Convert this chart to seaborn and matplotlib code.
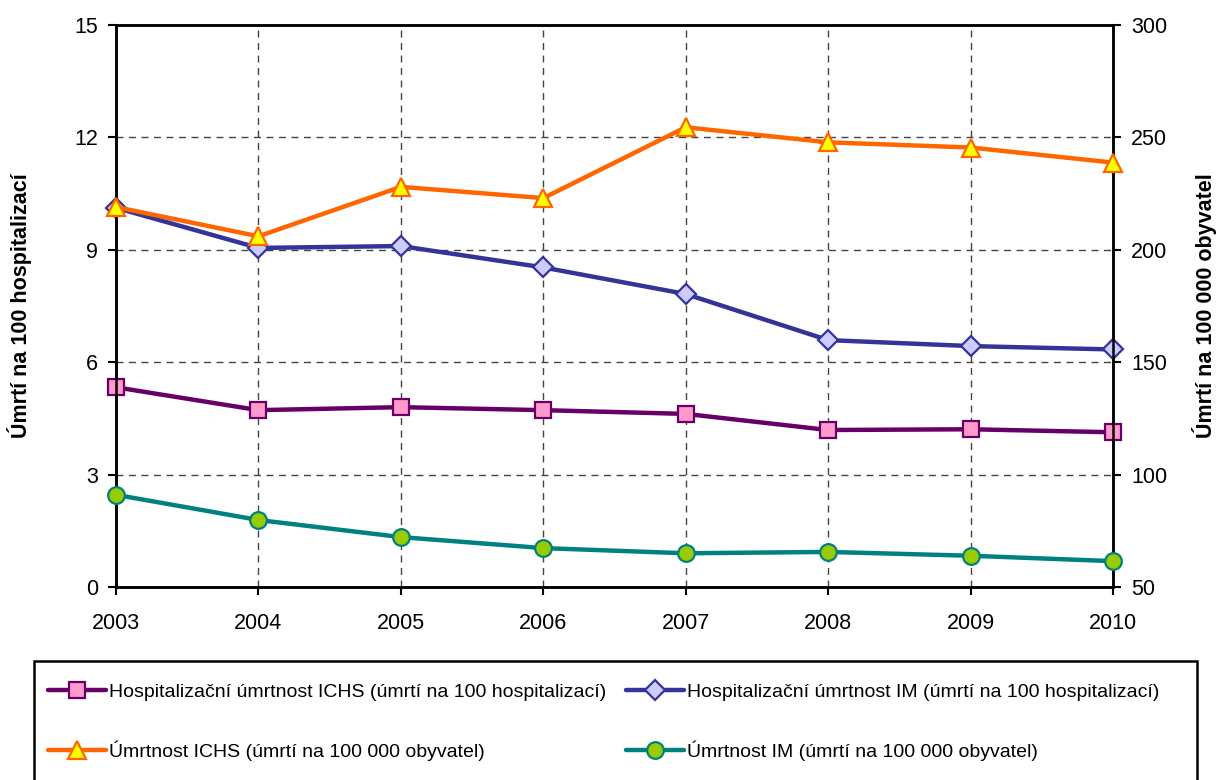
import numpy as np
import pandas as pd
import seaborn as sns
from matplotlib import pyplot as plt
from matplotlib.patches import Rectangle

years = [2003, 2004, 2005, 2006, 2007, 2008, 2009, 2010]
hosp_ichs = [5.33, 4.72, 4.8, 4.72, 4.62, 4.19, 4.21, 4.13]
hosp_im = [10.12, 9.05, 9.1, 8.53, 7.82, 6.59, 6.43, 6.34]
mort_ichs = [219, 206, 228, 223, 254.5, 247.8, 245.5, 238.8]
mort_im = [91, 79.8, 72.2, 67.3, 65, 65.6, 63.9, 61.5]

labels = [
    'Hospitalizační úmrtnost ICHS (úmrtí na 100 hospitalizací)',
    'Hospitalizační úmrtnost IM (úmrtí na 100 hospitalizací)',
    'Úmrtnost ICHS (úmrtí na 100 000 obyvatel)',
    'Úmrtnost IM (úmrtí na 100 000 obyvatel)',
]

df = pd.DataFrame({'rok': years, 'hosp_ichs': hosp_ichs, 'hosp_im': hosp_im,
                   'mort_ichs': mort_ichs, 'mort_im': mort_im})

sns.set_style('white')
plt.rcParams['font.family'] = ['Liberation Sans', 'DejaVu Sans']
plt.rcParams['text.color'] = 'black'
plt.rcParams['axes.labelcolor'] = 'black'

W, H = 1216, 780
fig = plt.figure(figsize=(W / 100, H / 100), dpi=100)
ax = fig.add_axes([116 / W, 1 - 587 / H, (1113 - 116) / W, (587 - 25) / H])
ax2 = ax.twinx()

styles = {
    'hosp_ichs': dict(color='#660066', marker='s', mfc='#FF99CC', mec='#660066', ms=12),
    'hosp_im': dict(color='#333399', marker='D', mfc='#CCCCFF', mec='#333399', ms=10),
    'mort_ichs': dict(color='#FF6600', marker='^', mfc='#FFFF00', mec='#FF6600', ms=13),
    'mort_im': dict(color='#008080', marker='o', mfc='#99CC00', mec='#008080', ms=12),
}

handles = {}
for col, axis in [('hosp_ichs', ax), ('hosp_im', ax), ('mort_ichs', ax2), ('mort_im', ax2)]:
    st = styles[col]
    sns.lineplot(data=df, x='rok', y=col, ax=axis, color=st['color'], lw=3.2,
                 marker=st['marker'], markerfacecolor=st['mfc'], markeredgecolor=st['mec'],
                 markeredgewidth=1.6, markersize=st['ms'], legend=False, clip_on=False, zorder=5)
    handles[col] = axis.get_lines()[-1]

ax.set_xlim(2003, 2010)
ax.set_ylim(0, 15)
ax2.set_ylim(50, 300)
ax.set_xticks(years)
ax.set_yticks(np.arange(0, 16, 3))
ax2.set_yticks(np.arange(50, 301, 50))

ax.grid(True, linestyle=(0, (5, 4)), color='#444444', lw=1)
ax.set_axisbelow(True)

for a in (ax, ax2):
    for s in a.spines.values():
        s.set_color('black')
        s.set_linewidth(1.8)
    a.tick_params(direction='out', length=6, width=1.5, color='black', labelsize=15.5, labelcolor='black')
ax.tick_params(axis='y', pad=7, left=True)
ax.tick_params(axis='x', pad=13, bottom=True)
ax2.tick_params(axis='y', pad=7, right=True)

ax.set_xlabel('')
ax.set_ylabel('Úmrtí na 100 hospitalizací', fontsize=15.5, fontweight='bold', labelpad=30)
ax2.set_ylabel('Úmrtí na 100 000 obyvatel', fontsize=15.5, fontweight='bold', labelpad=18)

# legend frame, bottom edge runs off the figure
fig.patches.append(Rectangle((34 / W, -0.02), (1197 - 34) / W, 0.02 + (H - 661) / H,
                             transform=fig.transFigure, fill=False, edgecolor='black', lw=1.8))

order = ['hosp_ichs', 'mort_ichs', 'hosp_im', 'mort_im']
lab_order = [labels[0], labels[2], labels[1], labels[3]]
leg = fig.legend([handles[k] for k in order], lab_order, loc='upper left',
                 bbox_to_anchor=(34 / W, 1 - 670 / H), ncol=2, frameon=False,
                 fontsize=14, labelcolor='black', handlelength=3.0, handletextpad=0.15,
                 columnspacing=1.0, labelspacing=2.0, borderpad=0.7, borderaxespad=0)

fig.savefig('out.png', dpi=100)
